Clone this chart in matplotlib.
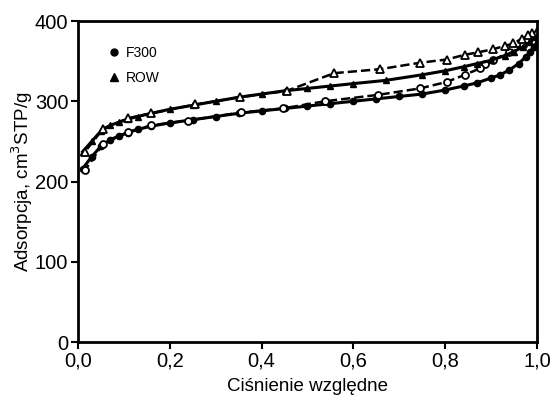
import matplotlib
matplotlib.use("Agg")
import matplotlib.pyplot as plt

plt.rcParams["font.family"] = ["Liberation Sans", "DejaVu Sans"]

# F300 - adsorpcja (pelne kolka) i desorpcja (puste kolka)
f300_ads_p = [0.01, 0.03, 0.05, 0.07, 0.09, 0.11, 0.13, 0.16, 0.2, 0.25, 0.3, 0.35, 0.4, 0.45,
              0.5, 0.55, 0.6, 0.65, 0.7, 0.75, 0.8, 0.84, 0.87, 0.9, 0.92, 0.94, 0.96, 0.975,
              0.985, 0.993, 1.0]
f300_ads_v = [216, 231, 244, 252, 257, 261, 265, 269, 273, 277, 281, 285, 288, 291,
              294, 297, 300, 303, 306, 309, 314, 319, 323, 329, 333, 339, 347, 355,
              362, 368, 374]
f300_des_p = [1.0, 0.99, 0.97, 0.94, 0.905, 0.887, 0.876, 0.843, 0.803, 0.745, 0.654, 0.538,
              0.446, 0.355, 0.24, 0.16, 0.11, 0.055, 0.015]
f300_des_v = [379, 375, 370, 362, 351, 346, 341, 333, 324, 316, 308, 300,
              291, 286, 276, 270, 262, 247, 214]

# ROW - adsorpcja (pelne trojkaty) i desorpcja (puste trojkaty)
row_ads_p = [0.01, 0.03, 0.05, 0.07, 0.09, 0.11, 0.13, 0.16, 0.2, 0.25, 0.3, 0.35, 0.4, 0.45,
             0.5, 0.55, 0.6, 0.67, 0.75, 0.8, 0.84, 0.87, 0.9, 0.93, 0.95, 0.97, 0.985, 1.0]
row_ads_v = [237, 250, 263, 270, 274, 278, 281, 285, 290, 295, 300, 305, 309, 313,
             316, 319, 322, 326, 333, 338, 343, 347, 351, 357, 362, 368, 374, 380]
row_des_p = [1.0, 0.99, 0.98, 0.967, 0.948, 0.93, 0.905, 0.872, 0.843, 0.803, 0.745, 0.658,
             0.558, 0.455, 0.353, 0.256, 0.16, 0.11, 0.055, 0.015]
row_des_v = [386, 385, 382, 378, 372, 369, 365, 361, 358, 352, 348, 340,
             335, 313, 305, 296, 285, 279, 266, 237]

x_ticks = [0.0, 0.2, 0.4, 0.6, 0.8, 1.0]
x_labels = ["0,0", "0,2", "0,4", "0,6", "0,8", "1,0"]
y_ticks = [0, 100, 200, 300, 400]

fig = plt.figure(figsize=(5.52, 3.98), dpi=100)
ax = fig.add_axes([0.1413, 0.1407, 0.8315, 0.8065])

ax.plot(f300_ads_p, f300_ads_v, "-", color="black", lw=2.2, marker="o", ms=4.5,
        mfc="black", mec="black")
ax.plot(f300_des_p, f300_des_v, "--", color="black", lw=1.8, marker="o", ms=5,
        mfc="white", mec="black", mew=1.3)
ax.plot(row_ads_p, row_ads_v, "-", color="black", lw=2.2, marker="^", ms=5,
        mfc="black", mec="black")
ax.plot(row_des_p, row_des_v, "--", color="black", lw=1.8, marker="^", ms=5.5,
        mfc="white", mec="black", mew=1.3)

# legenda
ax.plot([], [], "o", color="black", ms=5, label="F300")
ax.plot([], [], "^", color="black", ms=5.5, label="ROW")
handles, labels = ax.get_legend_handles_labels()
ax.legend(handles[-2:], labels[-2:], loc="upper left", bbox_to_anchor=(0.035, 0.96),
          frameon=False, fontsize=10, handletextpad=0.4, handlelength=1.0,
          labelspacing=0.75)

ax.set_xlim(0, 1.0)
ax.set_ylim(0, 400)
ax.set_xticks(x_ticks)
ax.set_xticklabels(x_labels)
ax.set_yticks(y_ticks)
ax.tick_params(labelsize=14.5, width=1.5, length=5, direction="out", pad=2)
for s in ax.spines.values():
    s.set_linewidth(2)

ax.set_xlabel("Ciśnienie względne", fontsize=13.5, labelpad=5)
ax.set_ylabel("Adsorpcja, cm$^3$STP/g", fontsize=13.5, labelpad=0)

fig.savefig("out.png", dpi=100)
